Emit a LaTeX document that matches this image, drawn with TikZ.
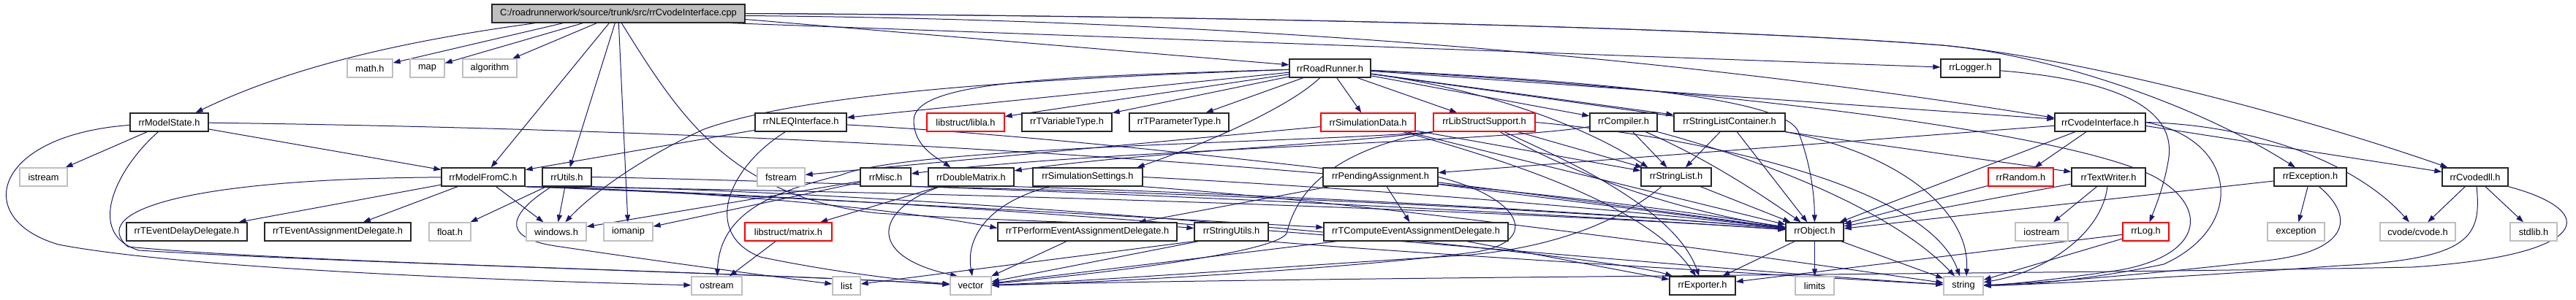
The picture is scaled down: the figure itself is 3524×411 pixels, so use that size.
\documentclass[tikz,border=0pt]{standalone}
\usepackage{fontspec}
\setmainfont{Liberation Sans}
\usetikzlibrary{arrows.meta}
\definecolor{edgecol}{HTML}{191970}
\definecolor{graybd}{HTML}{BFBFBF}
\definecolor{rootfill}{HTML}{BFBFBF}
\pgfdeclarelayer{background}
\pgfsetlayers{background,main}
\begin{document}
\begin{tikzpicture}[x=1pt,y=-1pt,
  box/.style={rectangle, minimum height=25pt, inner sep=0pt, fill=white, text=black, font=\fontsize{12.8}{15}\selectfont},
  nd/.style={box, draw=black!85, line width=1.3pt},
  gn/.style={box, draw=graybd, line width=1.3pt},
  rd/.style={box, draw=red, line width=1.2pt},
  rt/.style={box, draw=black!85, fill=rootfill, line width=1.3pt},
  edg/.style={draw=edgecol, line width=1pt, -{Triangle[length=10pt,width=7pt]}}]
\useasboundingbox (0,0) rectangle (3524,411);
% row 0
\node[rt, minimum width=346pt] (root) at (846,18.5) {C:/roadrunnerwork/source/trunk/src/rrCvodeInterface.cpp};
% row 1
\node[gn, minimum width=62pt] (math) at (506,93.5) {math.h};
\node[gn, minimum width=47pt] (map) at (584.5,93.5) {map};
\node[gn, minimum width=74pt] (algorithm) at (670,93.5) {algorithm};
\node[nd, minimum width=111pt] (RoadRunner) at (1819.5,93.5) {rrRoadRunner.h};
\node[nd, minimum width=81pt] (Logger) at (2695.5,93.5) {rrLogger.h};
% row 2
\node[nd, minimum width=107pt] (ModelState) at (231.5,167.5) {rrModelState.h};
\node[nd, minimum width=125pt] (NLEQ) at (1095.5,167.5) {rrNLEQInterface.h};
\node[rd, minimum width=106pt] (libla) at (1321,167.5) {libstruct/libla.h};
\node[nd, minimum width=123pt] (TVar) at (1459.5,167.5) {rrTVariableType.h};
\node[nd, minimum width=136pt] (TPar) at (1613,167.5) {rrTParameterType.h};
\node[rd, minimum width=129pt] (SimData) at (1871.5,167.5) {rrSimulationData.h};
\node[rd, minimum width=139pt] (LibStruct) at (2030.5,167.5) {rrLibStructSupport.h};
\node[nd, minimum width=92pt] (Compiler) at (2221,167.5) {rrCompiler.h};
\node[nd, minimum width=152pt] (SLC) at (2366,167.5) {rrStringListContainer.h};
\node[nd, minimum width=124pt] (CvodeH) at (2873,167.5) {rrCvodeInterface.h};
% row 3
\node[gn, minimum width=65pt] (istream) at (59.5,242.5) {istream};
\node[nd, minimum width=114pt] (ModelFromC) at (661,242.5) {rrModelFromC.h};
\node[nd, minimum width=67pt] (Utils) at (775.5,242.5) {rrUtils.h};
\node[gn, minimum width=65pt] (fstream) at (1068.5,242.5) {fstream};
\node[nd, minimum width=69pt] (Misc) at (1211.5,242.5) {rrMisc.h};
\node[nd, minimum width=117pt] (DoubleMatrix) at (1328.5,242.5) {rrDoubleMatrix.h};
\node[nd, minimum width=150pt] (SimSettings) at (1488,242.5) {rrSimulationSettings.h};
\node[nd, minimum width=157pt] (Pending) at (1888.5,242.5) {rrPendingAssignment.h};
\node[nd, minimum width=96pt] (StringList) at (2293,242.5) {rrStringList.h};
\node[rd, minimum width=89pt] (Random) at (2764.5,242.5) {rrRandom.h};
\node[nd, minimum width=101pt] (TextWriter) at (2884.5,242.5) {rrTextWriter.h};
\node[nd, minimum width=99pt] (Exception) at (3160.5,242.5) {rrException.h};
\node[nd, minimum width=90pt] (Cvodedll) at (3386,242.5) {rrCvodedll.h};
% row 4
\node[nd, minimum width=165pt] (TEDelay) at (255.5,317.5) {rrTEventDelayDelegate.h};
\node[nd, minimum width=200pt] (TEAssign) at (462,317.5) {rrTEventAssignmentDelegate.h};
\node[gn, minimum width=57pt] (float) at (615.5,317.5) {float.h};
\node[gn, minimum width=82pt] (windows) at (761,317.5) {windows.h};
\node[gn, minimum width=67pt] (iomanip) at (859.5,317.5) {iomanip};
\node[rd, minimum width=119pt] (matrix) at (1078.5,317.5) {libstruct/matrix.h};
\node[nd, minimum width=245pt] (TPerform) at (1487.5,317.5) {rrTPerformEventAssignmentDelegate.h};
\node[nd, minimum width=101pt] (StringUtils) at (1684.5,317.5) {rrStringUtils.h};
\node[nd, minimum width=252pt] (TCompute) at (1937,317.5) {rrTComputeEventAssignmentDelegate.h};
\node[nd, minimum width=79pt] (Object) at (2482.5,317.5) {rrObject.h};
\node[gn, minimum width=72pt] (iostream) at (2793,317.5) {iostream};
\node[rd, minimum width=63pt] (Log) at (2935.5,317.5) {rrLog.h};
\node[gn, minimum width=78pt] (exception) at (3141,317.5) {exception};
\node[gn, minimum width=103pt] (cvode) at (3307.5,317.5) {cvode/cvode.h};
\node[gn, minimum width=64pt] (stdlib) at (3466,317.5) {stdlib.h};
% row 5
\node[gn, minimum width=69pt] (ostream) at (980.5,391.5) {ostream};
\node[gn, minimum width=38pt] (list) at (1158,391.5) {list};
\node[gn, minimum width=56pt] (vector) at (1328,391.5) {vector};
\node[nd, minimum width=90pt] (Exporter) at (2329,391.5) {rrExporter.h};
\node[gn, minimum width=53pt] (limits) at (2482.5,391.5) {limits};
\node[gn, minimum width=54pt] (string) at (2686,391.5) {string};

\begin{pgfonlayer}{background}
\fill[white] (0,0) rectangle (3524,411);
% root
\draw[edg] ([xshift=60pt]root.south west) .. controls (560,55) and (400,90) .. ([xshift=-18pt]ModelState.north east);
\draw[edg] ([xshift=98pt]root.south west) -- (math);
\draw[edg] ([xshift=125pt]root.south west) -- (map);
\draw[edg] ([xshift=144pt]root.south west) -- (algorithm);
\draw[edg] ([xshift=161pt]root.south west) -- (ModelFromC);
\draw[edg] ([xshift=169pt]root.south west) -- (Utils);
\draw[edg] ([xshift=174pt]root.south west) -- (iomanip);
\draw[edg] ([xshift=178pt]root.south west) .. controls (930,160) and (1000,270) .. (1200,292) .. controls (1400,305) and (1550,305) .. (StringUtils);
\draw[edg] ([yshift=-8pt]root.east) -- (RoadRunner);
\draw[edg] ([xshift=-20pt]root.south east) -- (Logger);
\draw[edg] ([yshift=-3pt]root.east) .. controls (1800,28) and (2400,95) .. ([yshift=6pt]CvodeH.west);
\draw[edg] (root.east) .. controls (1700,22) and (2350,38) .. (2657,62) .. controls (2850,80) and (3150,160) .. (Cvodedll);
\draw[edg] (root.east) .. controls (1700,22) and (2350,38) .. (2657,62) .. controls (2800,75) and (3000,140) .. (Exception);
% RoadRunner
\draw[edg] (RoadRunner) -- (NLEQ);
\draw[edg] (RoadRunner) -- (libla);
\draw[edg] (RoadRunner) -- (TVar);
\draw[edg] (RoadRunner) -- (TPar);
\draw[edg] (RoadRunner) -- (SimData);
\draw[edg] (RoadRunner) -- (LibStruct);
\draw[edg] (RoadRunner) -- (Compiler);
\draw[edg] (RoadRunner) -- (SLC);
\draw[edg] (RoadRunner) -- (CvodeH);
\draw[edg] (RoadRunner) -- (TextWriter);
\draw[edg] (RoadRunner) .. controls (1400,108) and (1100,128) .. (963,177) .. controls (880,215) and (810,265) .. (windows);
\draw[edg] (RoadRunner) .. controls (1450,105) and (1250,110) .. (1250,165) .. controls (1250,200) and (1280,215) .. ([xshift=-28pt]DoubleMatrix.north);
\draw[edg] (RoadRunner) .. controls (1760,150) and (1640,200) .. ([xshift=-8pt]SimSettings.north east);
\draw[edg] (RoadRunner) .. controls (2050,125) and (2180,180) .. ([xshift=10pt]StringList.north west);
\draw[edg] (RoadRunner) .. controls (2200,112) and (2440,135) .. (2460,180) .. controls (2475,220) and (2482,260) .. (Object);
\draw[edg] (RoadRunner) .. controls (2400,125) and (2880,190) .. (2960,250) .. controls (3020,290) and (3010,350) .. (2900,370) .. controls (2800,385) and (2740,390) .. (string);
% NLEQ
\draw[edg] (NLEQ) -- (ModelFromC);
\draw[edg] (NLEQ) .. controls (995,230) and (960,320) .. (1040,352) .. controls (1150,375) and (1250,385) .. (vector);
\draw[edg] (NLEQ) .. controls (1600,195) and (2200,280) .. (Object);
% ModelState
\draw[edg] (ModelState) -- (istream);
\draw[edg] (ModelState) -- (ModelFromC);
\draw[edg] (ModelState) .. controls (1200,180) and (2000,240) .. (Object);
\draw[edg] (ModelState) .. controls (160,230) and (115,320) .. (190,343) .. controls (500,362) and (1000,372) .. (vector);
\draw[edg] (ModelState) .. controls (-10,185) and (-40,300) .. (80,335) .. controls (250,368) and (700,385) .. (ostream);
% ModelFromC
\draw[edg] (ModelFromC) -- (TEDelay);
\draw[edg] (ModelFromC) -- (TEAssign);
\draw[edg] (ModelFromC) -- (windows);
\draw[edg] (ModelFromC) .. controls (250,245) and (120,290) .. (175,338) .. controls (400,360) and (1000,372) .. (vector);
\draw[edg] (ModelFromC.south east) .. controls (1000,262) and (1250,290) .. ([yshift=5pt]TPerform.west);
\draw[edg] (ModelFromC.south east) .. controls (1100,270) and (1600,300) .. ([yshift=6pt]TCompute.west);
\draw[edg] (ModelFromC.south east) .. controls (1300,262) and (2100,290) .. (Object);
\draw[edg] (ModelFromC.south east) .. controls (1400,275) and (2200,360) .. (string);
% Utils
\draw[edg] (Utils) -- (float);
\draw[edg] (Utils) -- (windows);
\draw[edg] (Utils) .. controls (700,290) and (680,325) .. (760,337) .. controls (900,358) and (1050,378) .. (list);
\draw[edg] (Utils.east) .. controls (1300,252) and (2100,290) .. (Object);
\draw[edg] (Utils.south east) .. controls (1400,270) and (2200,350) .. (Exporter);
% matrix
\draw[edg] (matrix) -- (ostream);
% Misc
\draw[edg] (Misc) -- (windows);
\draw[edg] (Misc) -- (iomanip);
\draw[edg] (Misc.south east) .. controls (1600,262) and (2200,290) .. (Object);
% DoubleMatrix
\draw[edg] (DoubleMatrix) -- (matrix);
\draw[edg] ([xshift=-42pt]DoubleMatrix.south) .. controls (1200,285) and (1180,350) .. ([xshift=-18pt]vector.north);
\draw[edg] (DoubleMatrix.south east) .. controls (1700,265) and (2200,290) .. (Object);
% SimSettings
\draw[edg] (SimSettings) .. controls (1360,275) and (1320,320) .. ([xshift=2pt]vector.north);
\draw[edg] (SimSettings.east) .. controls (1900,260) and (2250,290) .. (Object);
\draw[edg] (SimSettings.south east) .. controls (1900,280) and (2400,350) .. (string);
% SimData
\draw[edg] (SimData) -- (fstream);
\draw[edg] (SimData) -- (StringList);
\draw[edg] (SimData) .. controls (2100,230) and (2260,290) .. (Exporter);
\draw[edg] (SimData) -- (Object);
% LibStruct
\draw[edg] (LibStruct) -- (StringList);
\draw[edg] (LibStruct) .. controls (2150,240) and (2300,290) .. (Object);
\draw[edg] (LibStruct) .. controls (2120,210) and (2290,280) .. (Exporter);
\draw[edg] (LibStruct.east) .. controls (2350,190) and (2640,260) .. ([xshift=-5pt]string.north);
\draw[edg] (LibStruct.south west) .. controls (1800,200) and (1550,210) .. (DoubleMatrix);
\draw[edg] (LibStruct.south west) .. controls (1800,210) and (1770,280) .. (1760,320) .. controls (1740,350) and (1450,380) .. (vector);
\draw[edg] (LibStruct.south west) .. controls (1800,195) and (1250,200) .. (1150,240) .. controls (1060,262) and (985,290) .. (ostream);
% Compiler
\draw[edg] (Compiler) -- (StringList);
\draw[edg] (Compiler) .. controls (2330,215) and (2400,260) .. (Object);
\draw[edg] (Compiler.south east) .. controls (2450,230) and (2600,300) .. ([xshift=-12pt]string.north);
\draw[edg] ([yshift=-6pt]Compiler.west) .. controls (2050,195) and (1500,205) .. (Misc);
% SLC
\draw[edg] (SLC) -- (StringList);
\draw[edg] (SLC) -- (Object);
\draw[edg] (SLC.south east) .. controls (2600,210) and (2695,290) .. ([xshift=4pt]string.north);
% CvodeH
\draw[edg] (CvodeH) -- (Pending);
\draw[edg] (CvodeH) -- (Random);
\draw[edg] (CvodeH) -- (Object);
\draw[edg] (CvodeH.east) .. controls (3100,172) and (3230,230) .. (cvode);
\draw[edg] ([yshift=-5pt]CvodeH.east) -- (Cvodedll);
\draw[edg] (CvodeH.east) .. controls (3060,190) and (3075,310) .. (2960,362) .. controls (2850,385) and (2760,391) .. (string);
% Random, TextWriter
\draw[edg] (Random) -- (Object);
\draw[edg] (TextWriter) -- (iostream);
\draw[edg] (TextWriter) -- (Object);
\draw[edg] (TextWriter) .. controls (2875,320) and (2800,372) .. (string);
% Exception
\draw[edg] (Exception) -- (exception);
\draw[edg] (Exception) -- (Object);
\draw[edg] ([xshift=12pt]Exception.south) .. controls (3225,300) and (3210,345) .. (3100,357) .. controls (2950,375) and (2790,388) .. (string);
% Cvodedll
\draw[edg] (Cvodedll) -- (cvode);
\draw[edg] (Cvodedll) -- (stdlib);
\draw[edg] ([xshift=2pt]Cvodedll.south) .. controls (3395,325) and (3380,355) .. (3200,364) .. controls (2980,380) and (2790,390) .. (string);
\draw[edg] (Cvodedll.south east) .. controls (3560,290) and (3545,350) .. (3300,366) .. controls (2800,376) and (1800,379) .. (vector);
% Object, Log, Logger
\draw[edg] (Object) -- (Exporter);
\draw[edg] (Object) -- (limits);
\draw[edg] (Object) -- (string);
\draw[edg] (Log) -- (Exporter);
\draw[edg] (Log) -- (string);
\draw[edg] (Logger) .. controls (2900,110) and (2975,150) .. (2967,215) .. controls (2962,250) and (2950,280) .. (Log);
% Pending
\draw[edg] (Pending) -- (TCompute);
\draw[edg] (Pending) -- (TPerform);
\draw[edg] (Pending) -- (Object);
\draw[edg] (Pending.east) .. controls (2080,270) and (2110,330) .. (2020,345) .. controls (1850,368) and (1500,388) .. (vector);
% delegates, utils
\draw[edg] (TPerform) -- (vector);
\draw[edg] (TCompute) -- (vector);
\draw[edg] (TCompute) -- (Exporter);
\draw[edg] ([xshift=6pt]StringUtils.south west) -- (vector);
\draw[edg] (StringUtils.south west) -- (list);
\draw[edg] (StringUtils.south east) .. controls (1900,345) and (2400,375) .. (string);
% StringList
\draw[edg] (StringList) -- (Object);
\draw[edg] ([xshift=-20pt]StringList.south) .. controls (2220,300) and (2130,340) .. (2000,350) .. controls (1800,362) and (1500,385) .. (vector);
\end{pgfonlayer}
\end{tikzpicture}
\end{document}
